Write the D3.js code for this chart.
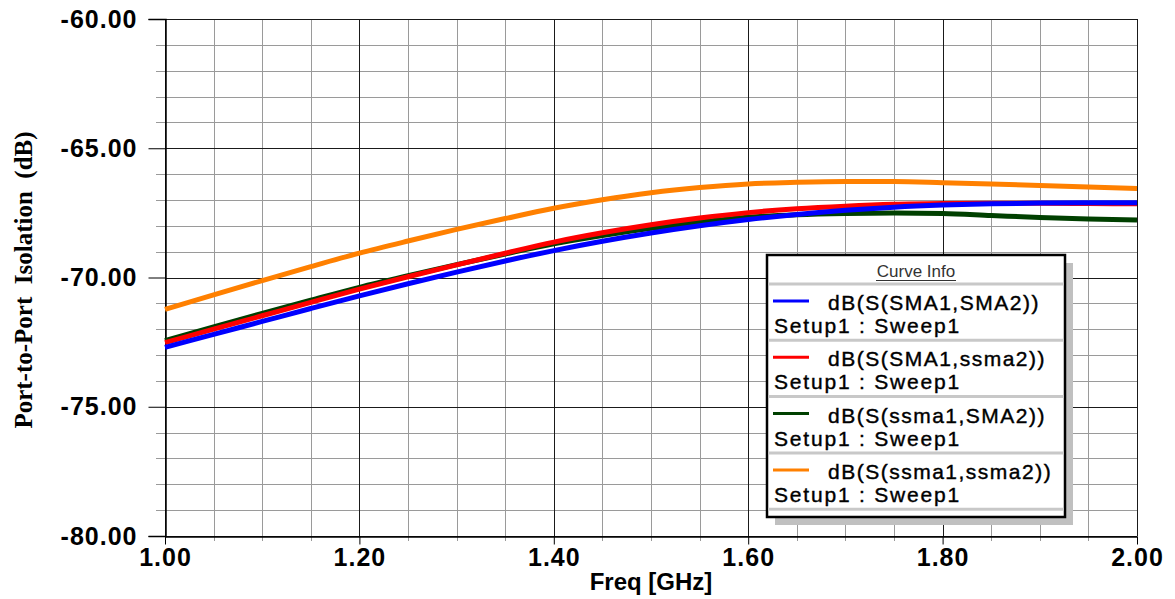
<!DOCTYPE html>
<html>
<head>
<meta charset="utf-8">
<script src="https://cdn.jsdelivr.net/npm/d3@7"></script>
<style>
  body { margin: 0; background: #fff; }
  svg { display: block; }
</style>
</head>
<body>
<script>
const W = 1175, H = 599;
const margin = { left: 165, right: 38, top: 19, bottom: 63 };

// frequency points (GHz)
const freq = [1.00, 1.05, 1.10, 1.15, 1.20, 1.25, 1.30, 1.35, 1.40, 1.45, 1.50,
              1.55, 1.60, 1.65, 1.70, 1.75, 1.80, 1.85, 1.90, 1.95, 2.00];

const sma1sma2 = [-72.70, -72.20, -71.70, -71.20, -70.71, -70.24, -69.79, -69.36, -68.96, -68.60, -68.28,
                  -68.00, -67.76, -67.56, -67.40, -67.28, -67.20, -67.15, -67.12, -67.11, -67.11];
const sma1ssma2 = [-72.52, -72.00, -71.48, -70.96, -70.45, -69.97, -69.51, -69.06, -68.63, -68.27, -67.96,
                   -67.70, -67.49, -67.34, -67.24, -67.17, -67.14, -67.13, -67.13, -67.14, -67.15];
const ssma1sma2 = [-72.44, -71.91, -71.39, -70.88, -70.38, -69.93, -69.50, -69.09, -68.70, -68.38, -68.10,
                   -67.86, -67.67, -67.57, -67.52, -67.50, -67.52, -67.60, -67.68, -67.74, -67.78];
const ssma1ssma2 = [-71.23, -70.67, -70.12, -69.58, -69.06, -68.59, -68.14, -67.72, -67.32, -66.99, -66.72,
                    -66.52, -66.38, -66.32, -66.29, -66.29, -66.33, -66.38, -66.44, -66.50, -66.56];

const seriesNames = ["dB(S(SMA1,SMA2))", "dB(S(SMA1,ssma2))", "dB(S(ssma1,SMA2))", "dB(S(ssma1,ssma2))"];
const seriesColors = ["#0000ff", "#ff0000", "#004000", "#ff8000"];
const seriesValues = [sma1sma2, sma1ssma2, ssma1sma2, ssma1ssma2];
const setupLabel = "Setup1 : Sweep1";

const xTicks = [1.00, 1.20, 1.40, 1.60, 1.80, 2.00];
const yTicks = [-80, -75, -70, -65, -60];

const xTitle = "Freq [GHz]";
const yTitle = "Port-to-Port  Isolation  (dB)";

const x = d3.scaleLinear().domain([1, 2]).range([margin.left, W - margin.right]);
const y = d3.scaleLinear().domain([-80, -60]).range([H - margin.bottom, margin.top]);

const xMinor = d3.range(1, 2.0001, 0.05).filter(v => !xTicks.some(t => Math.abs(t - v) < 1e-6));
const yMinor = d3.range(-80, -59.999, 1).filter(v => !yTicks.includes(Math.round(v)));

const svg = d3.select("body").append("svg")
  .attr("width", W)
  .attr("height", H);

const x0 = x.range()[0], x1 = x.range()[1];
const y0 = y.range()[0], y1 = y.range()[1];

// minor grid
svg.append("g").selectAll("line").data(xMinor).enter().append("line")
  .attr("x1", d => Math.round(x(d)) + 0.5).attr("x2", d => Math.round(x(d)) + 0.5)
  .attr("y1", y1).attr("y2", y0 + 5)
  .attr("stroke", "#9a9a9a").attr("stroke-width", 1);
svg.append("g").selectAll("line").data(yMinor).enter().append("line")
  .attr("y1", d => Math.round(y(d)) + 0.5).attr("y2", d => Math.round(y(d)) + 0.5)
  .attr("x1", x0 - 9).attr("x2", x1)
  .attr("stroke", "#9a9a9a").attr("stroke-width", 1);

// major grid
svg.append("g").selectAll("line").data(xTicks).enter().append("line")
  .attr("x1", d => Math.round(x(d)) + 0.5).attr("x2", d => Math.round(x(d)) + 0.5)
  .attr("y1", y1).attr("y2", y0)
  .attr("stroke", "#1a1a1a").attr("stroke-width", 1);
svg.append("g").selectAll("line").data(yTicks).enter().append("line")
  .attr("y1", d => Math.round(y(d)) + 0.5).attr("y2", d => Math.round(y(d)) + 0.5)
  .attr("x1", x0).attr("x2", x1)
  .attr("stroke", "#1a1a1a").attr("stroke-width", 1);

// axes
const fmt = d => d.toFixed(2);
const yAxis = d3.axisLeft(y).tickValues(yTicks).tickSize(17).tickPadding(11).tickFormat(fmt);
svg.append("g").attr("transform", "translate(" + (x0 + 0.5) + ",0)").call(yAxis)
  .call(g => g.select(".domain").attr("stroke-width", 1.5))
  .call(g => g.selectAll("text")
    .attr("font-family", "Liberation Sans, Arial, sans-serif")
    .attr("font-weight", "bold").attr("font-size", 25)
    .attr("letter-spacing", 1).attr("fill", "#000"));

const xAxis = d3.axisBottom(x).tickValues(xTicks).tickSize(8).tickPadding(4).tickSizeOuter(0)
  .tickFormat(fmt);
svg.append("g").attr("transform", "translate(0," + (y0 + 0.5) + ")").call(xAxis)
  .call(g => g.select(".domain").attr("stroke-width", 1.5))
  .call(g => g.selectAll("text")
    .attr("font-family", "Liberation Sans, Arial, sans-serif")
    .attr("font-weight", "bold").attr("font-size", 25)
    .attr("letter-spacing", 1).attr("fill", "#000"));

// titles
svg.append("text")
  .attr("x", (x0 + x1) / 2).attr("y", 590)
  .attr("text-anchor", "middle")
  .attr("font-family", "Liberation Sans, Arial, sans-serif")
  .attr("font-weight", "bold").attr("font-size", 24)
  .text(xTitle);

svg.append("text")
  .attr("transform", "translate(32," + 280 + ") rotate(-90)")
  .attr("text-anchor", "middle")
  .attr("font-family", "Liberation Serif, Times New Roman, serif")
  .attr("font-weight", "bold").attr("font-size", 25)
  .style("white-space", "pre")
  .text(yTitle);

// curves
const line = d3.line()
  .x((d, i) => x(freq[i]))
  .y(d => y(d))
  .curve(d3.curveMonotoneX);

const drawOrder = [2, 1, 0, 3];
svg.append("g").selectAll("path").data(drawOrder).enter().append("path")
  .attr("d", i => line(seriesValues[i]))
  .attr("fill", "none")
  .attr("stroke", i => seriesColors[i])
  .attr("stroke-width", 5);

// legend
const lg = { x: 767, y: 255, w: 298, h: 262 };
const legend = svg.append("g");
legend.append("rect")
  .attr("x", lg.x + 8).attr("y", lg.y + 8).attr("width", lg.w).attr("height", lg.h)
  .attr("fill", "#c0c0c0");
legend.append("rect")
  .attr("x", lg.x).attr("y", lg.y).attr("width", lg.w).attr("height", lg.h)
  .attr("fill", "#fff").attr("stroke", "#000").attr("stroke-width", 2.5);

legend.append("text")
  .attr("x", lg.x + lg.w / 2).attr("y", lg.y + 22)
  .attr("text-anchor", "middle")
  .attr("font-family", "Liberation Sans, Arial, sans-serif")
  .attr("font-size", 17).attr("fill", "#333")
  .text("Curve Info");
legend.append("line")
  .attr("x1", lg.x + lg.w / 2 - 40).attr("x2", lg.x + lg.w / 2 + 40)
  .attr("y1", lg.y + 25.5).attr("y2", lg.y + 25.5)
  .attr("stroke", "#333").attr("stroke-width", 1);

const rowH = 56.3;
const sepY = d3.range(5).map(i => lg.y + 29 + i * rowH);
legend.selectAll(".sep").data(sepY).enter().append("line")
  .attr("class", "sep")
  .attr("x1", lg.x + 1).attr("x2", lg.x + lg.w - 1)
  .attr("y1", d => d).attr("y2", d => d)
  .attr("stroke", "#c8c8c8").attr("stroke-width", 3);

const rows = legend.selectAll(".row").data(seriesNames).enter().append("g")
  .attr("class", "row")
  .attr("transform", (d, i) => "translate(" + lg.x + "," + (lg.y + 29 + i * rowH) + ")");
rows.append("line")
  .attr("x1", 6).attr("x2", 42).attr("y1", 17).attr("y2", 17)
  .attr("stroke", (d, i) => seriesColors[i]).attr("stroke-width", 3);
rows.append("text")
  .attr("x", 61).attr("y", 26)
  .attr("font-family", "Liberation Sans, Arial, sans-serif")
  .attr("font-size", 21).attr("letter-spacing", 1.5)
  .attr("stroke", "#000").attr("stroke-width", 0.4)
  .text(d => d);
rows.append("text")
  .attr("x", 7).attr("y", 49)
  .attr("font-family", "Liberation Sans, Arial, sans-serif")
  .attr("font-size", 21).attr("letter-spacing", 1.8)
  .attr("stroke", "#000").attr("stroke-width", 0.4)
  .text(setupLabel);
</script>
</body>
</html>
